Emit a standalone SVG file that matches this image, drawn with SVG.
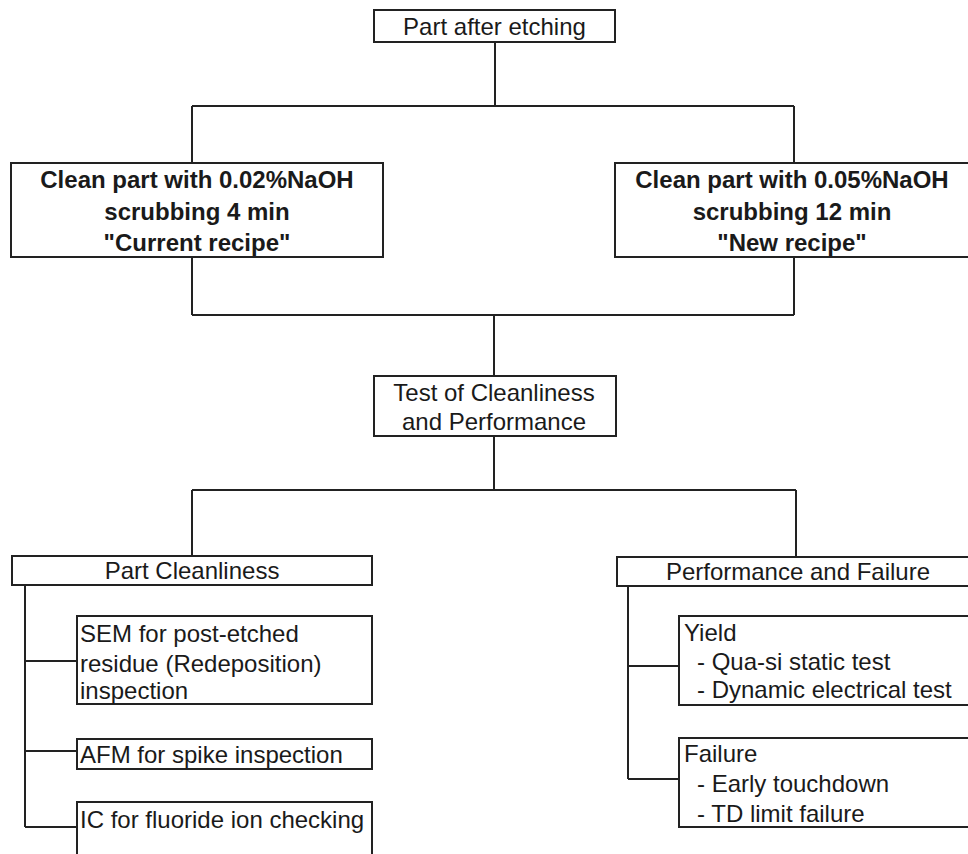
<svg xmlns="http://www.w3.org/2000/svg" width="968" height="854" viewBox="0 0 968 854">
<style>
.box{fill:#fff;stroke:#222;stroke-width:2}
.ln{fill:none;stroke:#222;stroke-width:2}
text{font-family:"Liberation Sans",Arial,sans-serif;fill:#1a1a1a;font-size:24px}
.b{font-weight:bold}
.c{text-anchor:middle}
</style>
<rect width="968" height="854" fill="#fff"/>
<g id="connectors">
<path class="ln" d="M495,42 V106 M192,106 H794 M192,106 V163 M794,106 V163"/>
<path class="ln" d="M192,257 V315 M794,257 V315 M192,315 H794 M494,315 V376"/>
<path class="ln" d="M494,436 V490 M192,490 H796 M192,490 V556 M796,490 V557"/>
<path class="ln" d="M25,585 V827 M25,661 H77 M25,751 H77 M25,827 H77"/>
<path class="ln" d="M628,586 V779 M628,666 H679 M628,779 H679"/>
</g>
<g id="n-top"><rect class="box" x="374" y="10" width="241" height="32"/><text class="c" x="494.5" y="35">Part after etching</text></g>
<g id="n-current"><rect class="box" x="11" y="163" width="372" height="94"/>
<text class="b c" x="197" y="188">Clean part with 0.02%NaOH</text>
<text class="b c" x="197" y="220">scrubbing 4 min</text>
<text class="b c" x="197" y="251">"Current recipe"</text></g>
<g id="n-new"><rect class="box" x="615" y="163" width="365" height="94"/>
<text class="b c" x="792" y="188">Clean part with 0.05%NaOH</text>
<text class="b c" x="792" y="220">scrubbing 12 min</text>
<text class="b c" x="792" y="251">"New recipe"</text></g>
<g id="n-test"><rect class="box" x="374" y="376" width="242" height="60"/>
<text class="c" x="494" y="401">Test of Cleanliness</text>
<text class="c" x="494" y="430">and Performance</text></g>
<g id="n-clean"><rect class="box" x="12" y="556" width="360" height="29"/><text class="c" x="192" y="579">Part Cleanliness</text></g>
<g id="n-sem"><rect class="box" x="77" y="616" width="295" height="88"/>
<text x="80" y="642">SEM for post-etched</text>
<text x="80" y="672">residue (Redeposition)</text>
<text x="80" y="699">inspection</text></g>
<g id="n-afm"><rect class="box" x="77" y="739" width="295" height="30"/><text x="80" y="763">AFM for spike inspection</text></g>
<g id="n-ic"><path class="box" d="M77,860 V802 H372 V860"/><text x="80" y="828">IC for fluoride ion checking</text></g>
<g id="n-perf"><rect class="box" x="617" y="557" width="360" height="29"/><text class="c" x="798" y="580">Performance and Failure</text></g>
<g id="n-yield"><rect class="box" x="679" y="616" width="300" height="89"/>
<text x="684" y="641">Yield</text>
<text x="697" y="670">- Qua-si static test</text>
<text x="697" y="698">- Dynamic electrical test</text></g>
<g id="n-fail"><rect class="box" x="679" y="738" width="300" height="89"/>
<text x="684" y="762">Failure</text>
<text x="697" y="792">- Early touchdown</text>
<text x="697" y="822">- TD limit failure</text></g>
</svg>
